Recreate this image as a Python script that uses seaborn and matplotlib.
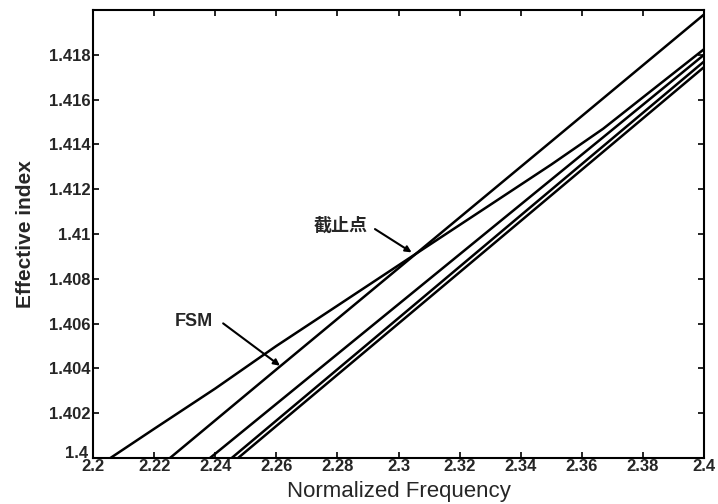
import matplotlib
matplotlib.use("Agg")
import matplotlib.pyplot as plt
import matplotlib.transforms as mtransforms
import seaborn as sns
import pandas as pd

# ---- data ----
a_x = [2.2057, 2.22, 2.24, 2.26, 2.28, 2.3044, 2.33, 2.35, 2.367, 2.38, 2.4]
a_y = [1.4000, 1.4013, 1.4031, 1.4050, 1.4068, 1.4090, 1.4113, 1.4131, 1.4147, 1.4161, 1.41825]
b_x = [2.2252, 2.26, 2.3044, 2.35, 2.4]
b_y = [1.4000, 1.40395, 1.40897, 1.41413, 1.4198]
c_x = [2.2383, 2.28, 2.32, 2.367, 2.4]
c_y = [1.4000, 1.40464, 1.40909, 1.41432, 1.4180]
d_x = [2.2454, 2.29, 2.34, 2.4]
d_y = [1.4000, 1.4051, 1.41083, 1.4177]
e_x = [2.2475, 2.29, 2.34, 2.4]
e_y = [1.4000, 1.40486, 1.41058, 1.41745]

x_ticks = [2.2, 2.22, 2.24, 2.26, 2.28, 2.3, 2.32, 2.34, 2.36, 2.38, 2.4]
x_tick_labels = ["2.2", "2.22", "2.24", "2.26", "2.28", "2.3", "2.32", "2.34", "2.36", "2.38", "2.4"]
y_ticks = [1.4, 1.402, 1.404, 1.406, 1.408, 1.41, 1.412, 1.414, 1.416, 1.418]
y_tick_labels = ["1.4", "1.402", "1.404", "1.406", "1.408", "1.41", "1.412", "1.414", "1.416", "1.418"]

x_label = "Normalized Frequency"
y_label = "Effective index"
fsm_label = "FSM"
cutoff_label = "截止点"

rows = []
for name, xs, ys in [("A", a_x, a_y), ("B", b_x, b_y), ("C", c_x, c_y),
                     ("D", d_x, d_y), ("E", e_x, e_y)]:
    for i, (xv, yv) in enumerate(zip(xs, ys)):
        rows.append({"curve": name, "order": i, "freq": xv, "neff": yv})
df = pd.DataFrame(rows)

sns.set_style("white")
plt.rcParams['font.family'] = ['Liberation Sans', 'Noto Sans CJK SC', 'DejaVu Sans']

fig = plt.figure(figsize=(7.18, 5.04), dpi=100)
ax = fig.add_axes([93 / 718, 1 - 458 / 504, 611 / 718, 448 / 504])

sns.lineplot(data=df, x="freq", y="neff", units="curve", estimator=None,
             sort=False, color="black", linewidth=1.8, ax=ax, legend=False)

ax.set_xlim(2.2, 2.4)
ax.set_ylim(1.4, 1.42)
ax.set_xticks(x_ticks)
ax.set_xticklabels(x_tick_labels, fontsize=12, fontweight="bold")
ax.set_yticks(y_ticks)
ax.set_yticklabels(y_tick_labels, fontsize=12, fontweight="bold")
ax.tick_params(direction="in", length=4, width=1.2, top=True, right=True,
               bottom=True, left=True, color="black", pad=1)
ax.tick_params(axis="y", pad=2)
for s in ax.spines.values():
    s.set_visible(True)
    s.set_color("black")
    s.set_linewidth(1.5)

# nudge the lowest y label up/left a little so it clears "2.2"
first = ax.get_yticklabels()[0]
first.set_transform(first.get_transform() +
                    mtransforms.ScaledTranslation(-2 / 100, 6 / 100, fig.dpi_scale_trans))

ax.set_xlabel(x_label, fontsize=16, labelpad=5)
ax.set_ylabel(y_label, fontsize=15, fontweight="bold", labelpad=10)

# labels
ax.text(2.2331, 1.40608, fsm_label, fontsize=13, fontweight="bold",
        ha="center", va="center")
ax.text(2.2812, 1.4104, cutoff_label, fontsize=13, fontweight="bold",
        ha="center", va="center", family=['Noto Sans CJK SC', 'DejaVu Sans'])

# arrows
ax.annotate("", xy=(2.2612, 1.40412), xytext=(2.2426, 1.40601),
            arrowprops=dict(arrowstyle="-|>", color="black", lw=1.5,
                            mutation_scale=9, shrinkA=0, shrinkB=0))
ax.annotate("", xy=(2.3043, 1.40918), xytext=(2.2923, 1.41022),
            arrowprops=dict(arrowstyle="-|>", color="black", lw=1.5,
                            mutation_scale=9, shrinkA=0, shrinkB=0))

fig.savefig("out.png", dpi=100)
